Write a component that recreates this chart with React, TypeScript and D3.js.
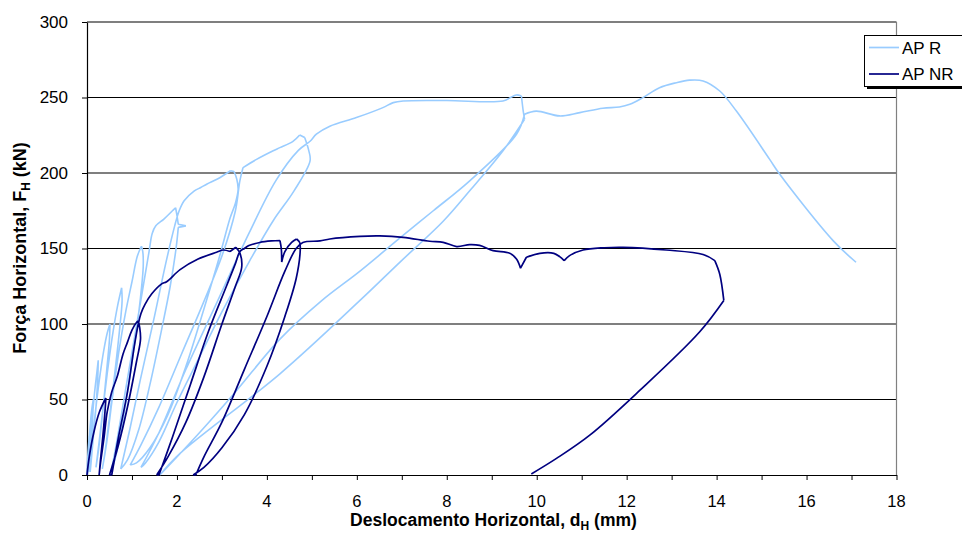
import React, { useEffect, useRef } from "react";
import * as d3 from "d3";

// axis ticks
const xTicks = d3.range(0, 19, 1);
const xLabels = [0, 2, 4, 6, 8, 10, 12, 14, 16, 18];
const yTicks = [0, 50, 100, 150, 200, 250, 300];

const seriesNames = ["AP R", "AP NR"];
const seriesColors = ["#99CCFF", "#000080"];

// AP R : [dH (mm), FH (kN)]
const apR: [number, number][] = [
  [0, 0], [0.01, 8], [0.03, 18], [0.05, 26], [0.04, 15], [0.02, 5], [0.01, 0],
  [0.03, 12], [0.06, 28], [0.1, 42], [0.14, 50], [0.13, 40], [0.1, 25], [0.06, 10], [0.03, 2],
  [0.06, 15], [0.11, 35], [0.17, 55], [0.22, 68], [0.25, 76], [0.24, 65], [0.2, 45], [0.14, 25], [0.09, 8], [0.07, 2],
  [0.11, 18], [0.18, 40], [0.27, 62], [0.37, 82], [0.45, 94], [0.51, 100], [0.5, 90], [0.44, 70], [0.36, 45], [0.27, 20], [0.2, 5],
  [0.27, 22], [0.36, 45], [0.47, 72], [0.58, 95], [0.68, 112], [0.77, 124], [0.78, 115], [0.72, 95], [0.62, 68], [0.5, 38], [0.4, 15], [0.34, 4],
  [0.44, 22], [0.56, 50], [0.7, 80], [0.86, 108], [1.0, 128], [1.12, 145], [1.21, 151.5], [1.24, 148], [1.25, 138], [1.18, 115], [1.05, 85], [0.9, 55], [0.75, 28], [0.62, 10], [0.55, 4],
  [0.68, 25], [0.85, 55], [1.05, 90], [1.25, 125], [1.38, 148], [1.45, 160], [1.53, 165], [1.71, 169.5], [1.9, 175], [1.97, 177], [2.0, 172], [2.03, 166], [2.2, 165], [2.03, 164], [1.98, 150], [1.85, 125], [1.65, 95], [1.4, 60], [1.15, 30], [0.9, 10], [0.75, 4],
  [0.95, 30], [1.2, 65], [1.5, 105], [1.75, 140], [1.95, 165], [2.05, 175], [2.16, 181.6], [2.38, 188], [2.53, 190.4], [2.67, 192.7], [2.9, 196], [3.19, 201.5], [3.27, 201], [3.33, 196], [3.36, 189], [3.3, 180], [3.18, 170], [2.95, 145], [2.6, 110], [2.2, 72], [1.8, 40], [1.4, 18], [1.1, 8], [0.96, 6.6],
  [1.2, 20], [1.6, 45], [2.1, 80], [2.6, 115], [3.0, 145], [3.3, 175], [3.4, 195], [3.47, 203.6], [3.77, 209], [4.14, 214.7], [4.29, 216.8], [4.58, 221], [4.73, 225.2], [4.84, 223.5], [4.93, 215], [4.96, 208], [4.6, 188], [4.14, 168.4], [3.62, 142], [3.0, 108], [2.5, 78], [2.0, 48], [1.6, 22], [1.3, 8], [1.2, 5],
  [1.6, 28], [2.2, 70], [2.9, 115], [3.6, 160], [4.2, 195], [4.7, 215], [4.96, 221], [5.1, 225.7], [5.4, 231], [5.99, 236.7], [6.58, 243.3], [6.81, 246.6], [7.03, 247.7], [8.0, 248], [9.25, 247.7], [9.45, 250.5], [9.55, 251.7], [9.66, 251], [9.7, 241], [9.73, 235.6],
  [9.25, 214.7], [8.51, 188.2], [7.92, 168], [6.96, 141], [6.07, 115.6], [4.29, 67], [2.07, 14.3], [1.62, 0],
  [2.5, 28], [3.3, 55], [4.29, 90], [5.2, 115], [6.07, 135], [6.96, 157], [7.7, 175], [8.51, 194.8], [9.55, 225.7], [9.73, 238.9], [9.99, 241], [10.51, 237.8], [10.96, 240], [11.47, 242.9], [11.84, 243.7], [12.07, 245.5], [12.36, 249.9], [12.73, 256.5], [13.1, 259.8], [13.4, 261.5], [13.7, 261], [14.07, 254.3], [14.44, 241], [15.18, 209], [15.4, 199.3], [16.59, 155.2], [17.1, 140.9],
];

// AP NR : [dH (mm), FH (kN)]
const apNR: [number, number][] = [
  [0, 0], [0.05, 12], [0.15, 28], [0.28, 42], [0.42, 51], [0.4, 42], [0.35, 25], [0.3, 10], [0.27, 0],
  [0.3, 8], [0.38, 25], [0.45, 42], [0.55, 55], [0.67, 65], [0.8, 80], [0.9, 88], [1.0, 96], [1.1, 101], [1.14, 102], [1.17, 98], [1.19, 90],
  [1.1, 75], [0.9, 45], [0.7, 20], [0.5, 0],
  [0.55, 0], [0.7, 25], [0.9, 55], [1.05, 85], [1.14, 100], [1.2, 107], [1.29, 113], [1.44, 120], [1.66, 126.6], [1.77, 128], [2.07, 136], [2.47, 143], [2.88, 147.5], [3.03, 149], [3.18, 148], [3.31, 150.8], [3.4, 147], [3.44, 137.6],
  [3.3, 125], [3.0, 100], [2.6, 65], [2.2, 35], [1.8, 12], [1.55, 0],
  [1.6, 0], [1.9, 25], [2.3, 60], [2.7, 95], [3.1, 125], [3.3, 140], [3.4, 148], [3.5, 150], [3.6, 152], [3.84, 154], [4.1, 155], [4.29, 155.3], [4.32, 150], [4.33, 141], [4.4, 148], [4.55, 154], [4.66, 156.3], [4.73, 154], [4.74, 148],
  [4.65, 130], [4.4, 105], [4.0, 72], [3.5, 40], [3.0, 18], [2.6, 5], [2.36, 0],
  [2.42, 0], [2.6, 12], [3.0, 35], [3.5, 70], [4.0, 105], [4.4, 135], [4.65, 150], [4.8, 154], [5.18, 155], [5.4, 156.3], [6.07, 158], [6.51, 158.3], [7.03, 157.4], [7.62, 154.8], [7.92, 154.1], [8.22, 151.3], [8.51, 152.6], [8.73, 152.1], [9.03, 148.6], [9.4, 146.8], [9.55, 143.1], [9.64, 137],
  [9.77, 144.2], [10.07, 146.8], [10.38, 146.8], [10.51, 144.6], [10.61, 142], [10.73, 145.3], [11.03, 149], [11.5, 150.5], [11.92, 150.8], [12.88, 149], [13.7, 146], [13.96, 142], [14.07, 133], [14.16, 115.6],
  [13.62, 94.7], [12.29, 56], [11.18, 26.4], [10.44, 11], [9.88, 0.7],
];

const font = "Arial, 'Liberation Sans', sans-serif";

// break a polyline wherever it turns sharply, so the smoothing
// keeps the cusps of the hysteresis loops
function splitAtCusps(pts: [number, number][]) {
  const parts: [number, number][][] = [];
  let cur: [number, number][] = [pts[0]];
  for (let i = 1; i < pts.length; i++) {
    cur.push(pts[i]);
    if (i < pts.length - 1) {
      const [ax, ay] = [pts[i][0] - pts[i - 1][0], pts[i][1] - pts[i - 1][1]];
      const [bx, by] = [pts[i + 1][0] - pts[i][0], pts[i + 1][1] - pts[i][1]];
      const c = (ax * bx + ay * by) / (Math.hypot(ax, ay) * Math.hypot(bx, by) || 1);
      if (c < 0.75) {
        parts.push(cur);
        cur = [pts[i]];
      }
    }
  }
  parts.push(cur);
  return parts;
}

export default function App() {
  const ref = useRef<SVGSVGElement>(null);

  useEffect(() => {
    const svg = d3.select(ref.current);
    svg.selectAll("*").remove();

    const x = d3.scaleLinear().domain([0, 18]).range([87, 896.5]);
    const y = d3.scaleLinear().domain([0, 300]).range([475, 22]);

    // grid
    svg.append("g")
      .selectAll("line")
      .data(yTicks.filter((t) => t > 0))
      .join("line")
      .attr("x1", x(0))
      .attr("x2", x(18))
      .attr("y1", (d) => y(d))
      .attr("y2", (d) => y(d))
      .attr("stroke", "#000")
      .attr("stroke-width", 1.2);

    svg.append("line")
      .attr("x1", x(18)).attr("x2", x(18))
      .attr("y1", y(300)).attr("y2", y(0))
      .attr("stroke", "#808080").attr("stroke-width", 1.2);

    // axes
    const yAxis = svg.append("g")
      .attr("transform", `translate(${x(0)},0)`)
      .call(d3.axisLeft(y).tickValues(yTicks).tickSize(5).tickPadding(14).tickSizeOuter(0));
    yAxis.selectAll("text").attr("font-family", font).attr("font-size", 17).attr("fill", "#000");

    const xAxis = svg.append("g")
      .attr("transform", `translate(0,${y(0)})`)
      .call(d3.axisBottom(x).tickValues(xTicks).tickSize(5).tickSizeOuter(0).tickFormat(() => ""));
    xAxis.selectAll("text").remove();
    svg.selectAll(".domain").attr("stroke", "#000").attr("stroke-width", 1.2);

    svg.append("g")
      .selectAll("text")
      .data(xLabels)
      .join("text")
      .attr("x", (d) => x(d))
      .attr("y", 507)
      .attr("text-anchor", "middle")
      .attr("font-family", font)
      .attr("font-size", 16.5)
      .text((d) => d);

    // series
    const line = d3.line<[number, number]>()
      .x((d) => x(d[0]))
      .y((d) => y(d[1]))
      .curve(d3.curveCatmullRom.alpha(0.5));

    [apR, apNR].forEach((s, i) => {
      const px = s.map((d) => [x(d[0]), y(d[1])] as [number, number]);
      const parts = splitAtCusps(px).map((p) => p.map((q) => [x.invert(q[0]), y.invert(q[1])] as [number, number]));
      svg.append("path")
        .attr("d", parts.map((p) => line(p)).join(""))
        .attr("fill", "none")
        .attr("stroke", seriesColors[i])
        .attr("stroke-width", i === 0 ? 1.6 : 1.7)
        .attr("stroke-linejoin", "round");
    });

    // axis titles
    const xt = svg.append("text")
      .attr("x", 493.5).attr("y", 526)
      .attr("text-anchor", "middle")
      .attr("font-family", font).attr("font-weight", "bold").attr("font-size", 17.5);
    xt.append("tspan").text("Deslocamento Horizontal, d");
    xt.append("tspan").attr("font-size", 12).attr("dy", 4).text("H");
    xt.append("tspan").attr("dy", -4).text(" (mm)");

    const yt = svg.append("text")
      .attr("transform", "translate(26,248) rotate(-90)")
      .attr("text-anchor", "middle")
      .attr("font-family", font).attr("font-weight", "bold").attr("font-size", 18);
    yt.append("tspan").text("Força Horizontal, F");
    yt.append("tspan").attr("font-size", 12).attr("dy", 4).text("H");
    yt.append("tspan").attr("dy", -4).text(" (kN)");

    // legend
    const lg = svg.append("g");
    lg.append("rect").attr("x", 867).attr("y", 86).attr("width", 100).attr("height", 3).attr("fill", "#000");
    lg.append("rect")
      .attr("x", 864.5).attr("y", 35.5).attr("width", 110).attr("height", 51)
      .attr("fill", "#fff").attr("stroke", "#000").attr("stroke-width", 1);
    seriesNames.forEach((name, i) => {
      const ly = 47.5 + i * 26.5;
      lg.append("line")
        .attr("x1", 869).attr("x2", 899).attr("y1", ly).attr("y2", ly)
        .attr("stroke", seriesColors[i]).attr("stroke-width", 1.7);
      lg.append("text")
        .attr("x", 902).attr("y", ly + 6)
        .attr("font-family", font).attr("font-size", 17)
        .text(name);
    });
  }, []);

  return (
    <div style={{ position: "absolute", left: 0, top: 0 }}>
      <svg ref={ref} width={962} height={534} style={{ display: "block" }} />
    </div>
  );
}
